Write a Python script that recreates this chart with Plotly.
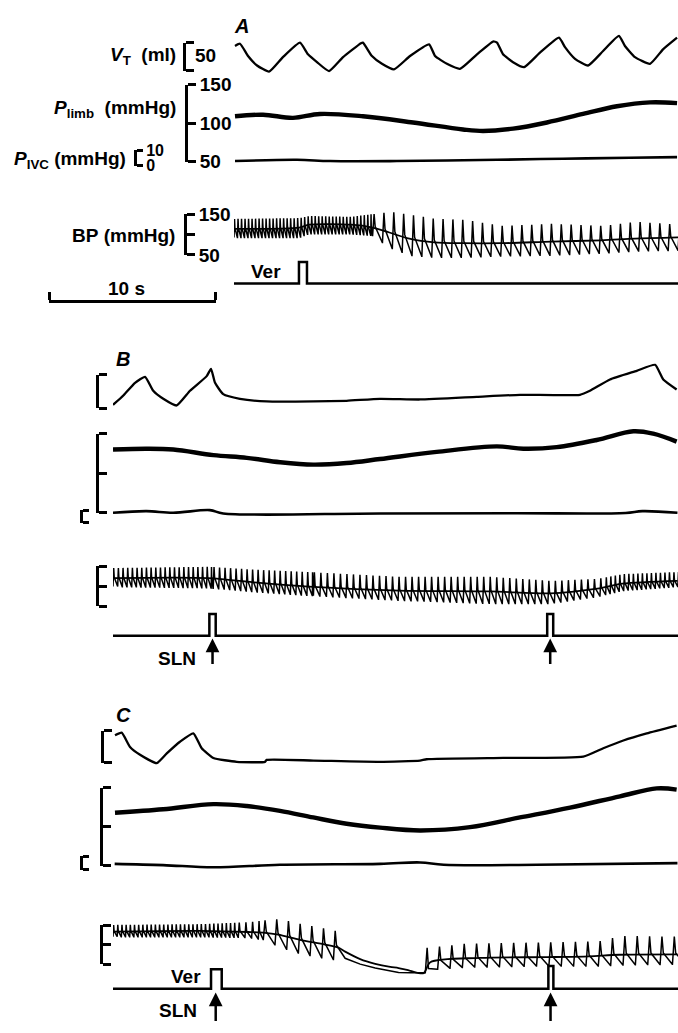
import numpy as np
import plotly.graph_objects as go

W, H = 678, 1033
PX_PER_S = 16.7
FONT = "Liberation Sans, Arial, Helvetica, sans-serif"

# ======================= DATA =======================
# ---- Panel A (time in s from start of the panel's traces) ----
A_vt_t = [0.06, 0.36, 0.84, 1.38, 2.10, 2.93, 3.95, 4.43, 4.97, 5.69, 6.53, 7.60, 7.72, 8.26, 8.86, 9.58,
          10.54, 11.68, 12.04, 12.75, 13.53, 14.55, 15.51, 15.75, 16.11, 16.71, 17.37, 18.32, 19.46,
          19.82, 20.42, 21.20, 22.10, 23.05, 23.41, 24.01, 24.91, 25.69, 26.53]
A_vt = [44, 48, 26, 9, -2, 24, 50, 29, 15, -1, 24, 49, 50, 26, 12, 2, 26, 47, 26, 12, 3, 29, 52, 50,
        29, 15, 6, 32, 59, 42, 21, 9, 35, 62, 44, 24, 12, 38, 59]
A_plimb_t = [0.06, 1.74, 3.53, 5.15, 7.72, 10.72, 13.71, 14.91, 16.71, 18.74, 20.90, 22.93, 24.91, 26.53]
A_plimb = [109, 111, 107, 112, 109, 101, 92, 90, 93, 101, 112, 122, 127, 126]
A_pivc_t = [0.06, 3.77, 5.75, 9.76, 15.75, 19.70, 23.70, 26.53]
A_pivc = [3.1, 3.9, 3.1, 3.1, 3.9, 4.6, 5.2, 5.6]
A_bp_env_t = [0, 3.9, 4.5, 7.0, 8.3, 9.3, 10.5, 12.0, 13.7, 16.0, 19.0, 22.0, 24.0, 26.6]
A_bp_sys = [138, 140, 145, 143, 150, 155, 148, 138, 136, 121, 126, 121, 131, 124]
A_bp_dia = [93, 93, 102, 102, 98, 69, 50, 45, 45, 48, 50, 55, 60, 62]
A_bp_mean_t = [0, 3.9, 4.5, 7.0, 8.3, 9.3, 10.5, 12.0, 13.7, 16.0, 19.0, 22.0, 24.0, 26.6]
A_bp_mean = [114, 117, 124, 124, 117, 105, 90, 81, 79, 79, 83, 86, 90, 93]
A_beat_start = [0, 8.3]
A_beat_end = [8.3, 26.7]
A_beat_rr = [0.21, 0.59]
A_stim_t = [3.89]
A_stim_w = [0.48]
A_stim_h = [1.0]

# ---- Panel B ----
B_vt_t = [0, 0.62, 1.32, 1.92, 2.41, 3.01, 3.81, 4.61, 5.61, 5.87, 6.11, 6.60, 7.60, 9.20, 11.99,
          13.99, 15.99, 18.38, 21.78, 24.37, 27.96, 28.56, 29.76, 31.36, 32.46, 32.95, 33.75]
B_vt = [5, 19, 38, 47, 26, 14, 4, 26, 48, 59, 38, 21, 14, 10, 10, 11, 14, 13, 17, 20, 20, 26, 43, 56,
        65, 43, 28]
B_plimb_t = [0, 2.02, 3.61, 6.01, 8.01, 10.0, 11.99, 13.99, 15.99, 19.38, 22.98, 24.57, 26.57, 28.96,
             31.16, 32.35, 33.75]
B_plimb = [130, 131, 130, 123, 119.5, 114, 111, 113, 118, 127, 134, 131, 133, 142, 153, 150, 140]
B_pivc_t = [0, 2.0, 3.6, 5.8, 6.6, 16.0, 24.0, 30.7, 31.7, 33.8]
B_pivc = [7.9, 9.2, 7.9, 10.0, 7.4, 7.4, 7.6, 7.8, 9.2, 7.9]
B_bp_env_t = [0, 5.7, 8.8, 11.7, 17.1, 22.6, 26.2, 29.0, 30.5, 33.8]
B_bp_sys = [145, 148, 140, 135, 123, 123, 113, 118, 130, 135]
B_bp_dia = [99, 96, 85, 77, 65, 57, 57, 74, 89, 99]
B_bp_mean_t = [0, 5.7, 8.8, 11.7, 17.1, 22.6, 26.2, 29.0, 30.5, 33.8]
B_bp_mean = [120, 120, 108, 99, 89, 87, 82, 94, 106, 113]
B_beat_start = [0, 6, 12, 29.5]
B_beat_end = [6, 12, 29.5, 34]
B_beat_rr = [0.28, 0.33, 0.39, 0.27]
B_stim_t = [5.77, 26.0]
B_stim_w = [0.38, 0.36]
B_stim_h = [1.0, 1.0]
B_sln_t = [5.96, 26.18]

# ---- Panel C ----
C_vt_t = [0.12, 0.52, 1.02, 1.62, 2.62, 3.22, 4.01, 4.81, 5.31, 6.01, 7.41, 9.10, 9.20, 12.0, 15.99,
          18.38, 18.78, 23.37, 28.16, 29.36, 30.56, 31.96, 33.75]
C_vt = [43, 47, 25, 13, 0, 15, 33, 46, 23, 8, 2, 2, 5, 4, 2, 4, 6, 8, 10, 23, 35, 46, 58]
C_plimb_t = [0.12, 3.01, 6.01, 8.01, 10.0, 11.99, 13.99, 15.99, 18.38, 21.38, 24.37, 27.37, 30.36,
             32.56, 33.75]
C_plimb = [118, 122.5, 129, 126.6, 120.4, 112, 104, 99, 95.4, 99.6, 112, 124.6, 139, 149, 147.5]
C_pivc_t = [0.1, 3.0, 6.0, 10.0, 16.0, 18.4, 19.8, 25.4, 33.8]
C_pivc = [4.5, 3.6, 2.0, 3.8, 4.5, 5.5, 3.8, 3.8, 5.0]
C_bp_env_t = [0, 5.2, 8.1, 9.1, 9.9, 11.2, 12.7, 13.5, 18.7, 19.5, 21.0, 25.0, 29.0, 30.3, 33.8]
C_bp_sys = [150, 152, 157, 162, 165, 152, 140, 132, 92, 95, 102, 105, 108, 122, 120]
C_bp_dia = [120, 120, 118, 112, 95, 77, 65, 60, 28, 38, 42, 45, 45, 48, 50]
C_bp_mean_t = [0, 5.2, 8.1, 9.1, 9.9, 11.2, 12.7, 13.5, 13.9, 14.8, 15.7, 16.6, 17.1, 17.8, 18.6,
               19.0, 22.0, 26.0, 28.5, 30.3, 33.8]
C_bp_mean = [133, 135, 132, 130, 125, 112, 100, 92, 82, 63, 51, 43, 40, 33, 27, 55, 66, 68, 70, 74, 75]
C_pause_t = [13.9, 14.8, 15.7, 16.6, 17.1, 17.8, 18.6]
C_pause_bp = [65, 50, 40, 34, 29, 28, 27]
C_beat_start = [0, 7.5, 9.0, 18.7]
C_beat_end = [7.5, 9.0, 13.6, 34.0]
C_beat_rr = [0.25, 0.40, 0.70, 0.74]
C_stim_t = [5.87, 26.07]
C_stim_w = [0.64, 0.30]
C_stim_h = [0.9, 1.05]
C_sln_t = [6.15, 26.2]

# ---- scales & labels ----
VT_SCALE = [0, 50]
PLIMB_TICKS = [50, 100, 150]
PIVC_TICKS = [0, 10]
BP_TICKS = [50, 100, 150]
ROW_LABELS = ["<i>V</i><sub>T</sub>\u00a0\u00a0(ml)", "<i>P</i><sub>limb</sub>\u00a0\u00a0(mmHg)",
              "<i>P</i><sub>IVC</sub>\u00a0(mmHg)", "BP\u00a0(mmHg)"]
PANEL_LABELS = ["A", "B", "C"]
SCALE_BAR_S = 10

# ======================= LAYOUT HELPERS =======================
layout = dict(width=W, height=H, margin=dict(l=0, r=0, t=0, b=0), paper_bgcolor="white",
              plot_bgcolor="rgba(0,0,0,0)", showlegend=False, hovermode=False)
traces = []
annotations = []


def px2x(px):
    return px / W


def px2y(py):
    return 1 - py / H


_yc = [0]


def new_y():
    _yc[0] += 1
    n = _yc[0]
    return ("yaxis" if n == 1 else "yaxis%d" % n), ("y" if n == 1 else "y%d" % n)


def data_axis(xref, p1, v1, p2, v2):
    key, ref = new_y()
    k = (v2 - v1) / (p2 - p1)
    layout[key] = dict(domain=[0, 1], range=[v1 + (H - p1) * k, v1 - p1 * k], visible=False,
                       anchor=xref)
    return ref


def bracket_axis(xref, xpx, p_top, v_top, p_bot, v_bot, tickvals, ticktext, ticklen=8, labels=True,
                 fsize=19):
    key, ref = new_y()
    eps = (v_top - v_bot) * 0.004
    layout[key] = dict(domain=[px2y(p_bot), px2y(p_top)], range=[v_bot - eps, v_top + eps],
                       anchor="free", position=px2x(xpx), side="right", showline=True,
                       linecolor="black", linewidth=3, ticks="outside", ticklen=ticklen, tickwidth=3,
                       tickcolor="black", tickvals=tickvals, ticktext=ticktext,
                       showticklabels=labels,
                       tickfont=dict(family=FONT, size=fsize, color="black", weight="bold"),
                       showgrid=False, zeroline=False)
    traces.append(go.Scatter(x=[None], y=[None], xaxis=xref, yaxis=ref, mode="lines",
                             hoverinfo="skip", showlegend=False))
    return ref


def line(xref, yref, t, v, width, shape="linear", smoothing=1.0):
    ln = dict(color="black", width=width, shape=shape)
    if shape == "spline":
        ln["smoothing"] = smoothing
    traces.append(go.Scatter(x=t, y=v, xaxis=xref, yaxis=yref, mode="lines", line=ln,
                             hoverinfo="skip", showlegend=False))


def pulse_block(starts, ends, rrs, env_t, sys, dia, mean_t, mean):
    beats = []
    for s, e, rr in zip(starts, ends, rrs):
        beats.extend(np.arange(s, e - 1e-6, rr).tolist())
    tt, vv = [], []
    for i, tb in enumerate(beats):
        nxt = beats[i + 1] if i + 1 < len(beats) else tb + rrs[-1]
        rr = nxt - tb
        s_ = np.interp(tb, env_t, sys)
        d_ = np.interp(tb, env_t, dia)
        m_ = np.interp(tb, mean_t, mean)
        dn = np.interp(nxt, env_t, dia)
        tt += [tb, tb + 0.15 * rr, tb + 0.26 * rr, nxt - 0.01]
        vv += [d_, s_, m_ + 0.08 * (s_ - m_), dn]
    return tt, vv


def stim_line(t_on, w, h, t_end):
    tt, vv = [0], [0]
    for a, ww, hh in zip(t_on, w, h):
        tt += [a, a, a + ww, a + ww]
        vv += [0, hh, hh, 0]
    tt.append(t_end)
    vv.append(0)
    return tt, vv


def ann(text, xpx, ypx, xanchor="center", size=19, italic=False):
    txt = "<b>%s</b>" % text
    if italic:
        txt = "<b><i>%s</i></b>" % text
    annotations.append(dict(text=txt, x=px2x(xpx), y=px2y(ypx), xref="paper", yref="paper",
                            xanchor=xanchor, yanchor="middle", showarrow=False,
                            font=dict(family=FONT, size=size, color="black")))


def arrow(xref, t, tip_px, tail_px):
    annotations.append(dict(text="", x=t, y=px2y(tip_px), xref=xref, yref="paper", ax=0,
                            ay=tail_px - tip_px, axref="pixel", ayref="pixel", showarrow=True,
                            arrowhead=2, arrowsize=1.1, arrowwidth=2.5, arrowcolor="black"))


# ======================= PANELS =======================
GEOM = {
    "A": dict(x="x", x0=234, vt=(33.3, 61.7), vt_x=184, pl=(76, 155), pl_x=186, pv=(143, 159), pv_x=135,
              bp=(208, 250), bp_x=185, stim=(279, 257), labels=True),
    "B": dict(x="x2", x0=113, vt=(372, 406), vt_x=97, pl=(432, 513), pl_x=97, pv=(510, 523), pv_x=81,
              bp=(567, 608), bp_x=97, stim=(638, 616), labels=False),
    "C": dict(x="x3", x0=113, vt=(735, 768), vt_x=102, pl=(793, 873), pl_x=101, pv=(863, 877), pv_x=81,
              bp=(933, 973), bp_x=101, stim=(998, 976), labels=False),
}
DATA = {
    "A": dict(vt=(A_vt_t, A_vt), pl=(A_plimb_t, A_plimb), pv=(A_pivc_t, A_pivc),
              env=(A_bp_env_t, A_bp_sys, A_bp_dia), mean=(A_bp_mean_t, A_bp_mean),
              beats=(A_beat_start, A_beat_end, A_beat_rr), stim=(A_stim_t, A_stim_w, A_stim_h)),
    "B": dict(vt=(B_vt_t, B_vt), pl=(B_plimb_t, B_plimb), pv=(B_pivc_t, B_pivc),
              env=(B_bp_env_t, B_bp_sys, B_bp_dia), mean=(B_bp_mean_t, B_bp_mean),
              beats=(B_beat_start, B_beat_end, B_beat_rr), stim=(B_stim_t, B_stim_w, B_stim_h)),
    "C": dict(vt=(C_vt_t, C_vt), pl=(C_plimb_t, C_plimb), pv=(C_pivc_t, C_pivc),
              env=(C_bp_env_t, C_bp_sys, C_bp_dia), mean=(C_bp_mean_t, C_bp_mean),
              beats=(C_beat_start, C_beat_end, C_beat_rr), stim=(C_stim_t, C_stim_w, C_stim_h)),
}

xi = {"A": "xaxis", "B": "xaxis2", "C": "xaxis3"}
for name in ["A", "B", "C"]:
    g, d = GEOM[name], DATA[name]
    xr = g["x"]
    t_end = (W - g["x0"]) / PX_PER_S
    layout[xi[name]] = dict(domain=[px2x(g["x0"]), 1], range=[0, t_end], visible=False)
    lab = g["labels"]

    # tidal volume
    y_vt = data_axis(xr, g["vt"][0], VT_SCALE[1], g["vt"][1], VT_SCALE[0])
    bracket_axis(xr, g["vt_x"], g["vt"][0], VT_SCALE[1], g["vt"][1], VT_SCALE[0], VT_SCALE,
                 ["", ""], labels=False)
    line(xr, y_vt, d["vt"][0], d["vt"][1], 2.3, shape="spline", smoothing=0.45)

    # limb perfusion pressure
    y_pl = data_axis(xr, g["pl"][0], PLIMB_TICKS[-1], g["pl"][1], PLIMB_TICKS[0])
    bracket_axis(xr, g["pl_x"], g["pl"][0], PLIMB_TICKS[-1], g["pl"][1], PLIMB_TICKS[0], PLIMB_TICKS,
                 [str(v) for v in PLIMB_TICKS], labels=lab)
    line(xr, y_pl, d["pl"][0], d["pl"][1], 4.4, shape="spline", smoothing=1.0)

    # IVC pressure
    y_pv = data_axis(xr, g["pv"][0], PIVC_TICKS[-1], g["pv"][1], PIVC_TICKS[0])
    bracket_axis(xr, g["pv_x"], g["pv"][0], PIVC_TICKS[-1], g["pv"][1], PIVC_TICKS[0], PIVC_TICKS,
                 [str(v) for v in PIVC_TICKS], ticklen=6, labels=lab, fsize=16)
    line(xr, y_pv, d["pv"][0], d["pv"][1], 2.6, shape="spline", smoothing=1.0)

    # blood pressure
    y_bp = data_axis(xr, g["bp"][0], BP_TICKS[-1], g["bp"][1], BP_TICKS[0])
    bracket_axis(xr, g["bp_x"], g["bp"][0], BP_TICKS[-1], g["bp"][1], BP_TICKS[0], BP_TICKS,
                 [str(BP_TICKS[0]), "", str(BP_TICKS[-1])], labels=lab)
    bs, be, brr = d["beats"]
    et, es, ed = d["env"]
    mt, mv = d["mean"]
    if name == "C":
        t1, v1 = pulse_block(bs[:3], be[:3], brr[:3], et, es, ed, mt, mv)
        t2, v2 = pulse_block(bs[3:], be[3:], brr[3:], et, es, ed, mt, mv)
        tt = t1[:-1] + C_pause_t + t2
        vv = v1[:-1] + C_pause_bp + v2
    else:
        tt, vv = pulse_block(bs, be, brr, et, es, ed, mt, mv)
    line(xr, y_bp, tt, vv, 1.5)
    line(xr, y_bp, mt, mv, 1.8, shape="spline", smoothing=0.8)

    # stimulus marker
    y_st = data_axis(xr, g["stim"][0], 0, g["stim"][1], 1)
    st, sv = stim_line(*d["stim"], t_end)
    line(xr, y_st, st, sv, 2.5)

# 10 s time-scale bar (an axis using the same px/s scale)
eps = SCALE_BAR_S * 0.004
layout["xaxis4"] = dict(domain=[px2x(49), px2x(49 + SCALE_BAR_S * PX_PER_S)], range=[-eps, SCALE_BAR_S + eps],
                        anchor="free", position=px2y(297), side="top", showline=True, linewidth=3,
                        linecolor="black", ticks="outside", ticklen=8, tickwidth=3, tickcolor="black",
                        tickvals=[0, SCALE_BAR_S], showticklabels=False, showgrid=False, zeroline=False)
traces.append(go.Scatter(x=[None], y=[None], xaxis="x4", yaxis="y", mode="lines", showlegend=False))

# ======================= TEXT =======================
ann(ROW_LABELS[0], 178, 47, xanchor="right")
ann(ROW_LABELS[1], 178, 101, xanchor="right")
ann(ROW_LABELS[2], 128, 153, xanchor="right")
ann(ROW_LABELS[3], 177, 230, xanchor="right")
ann(str(VT_SCALE[1]), 193, 46, xanchor="left")
ann("%d s" % SCALE_BAR_S, 126, 284)
ann(PANEL_LABELS[0], 241, 16, italic=True, size=20)
ann(PANEL_LABELS[1], 123, 356, italic=True, size=20)
ann(PANEL_LABELS[2], 123, 719, italic=True, size=20)
ann("Ver", 266, 267)
ann("SLN", 177, 661)
ann("Ver", 186, 986)
ann("SLN", 178, 1020)
for t in B_sln_t:
    arrow("x2", t, 641, 668)
for t in C_sln_t:
    arrow("x3", t, 1002, 1032)

layout["annotations"] = annotations
fig = go.Figure(data=traces, layout=layout)
fig.write_html("out.html")
